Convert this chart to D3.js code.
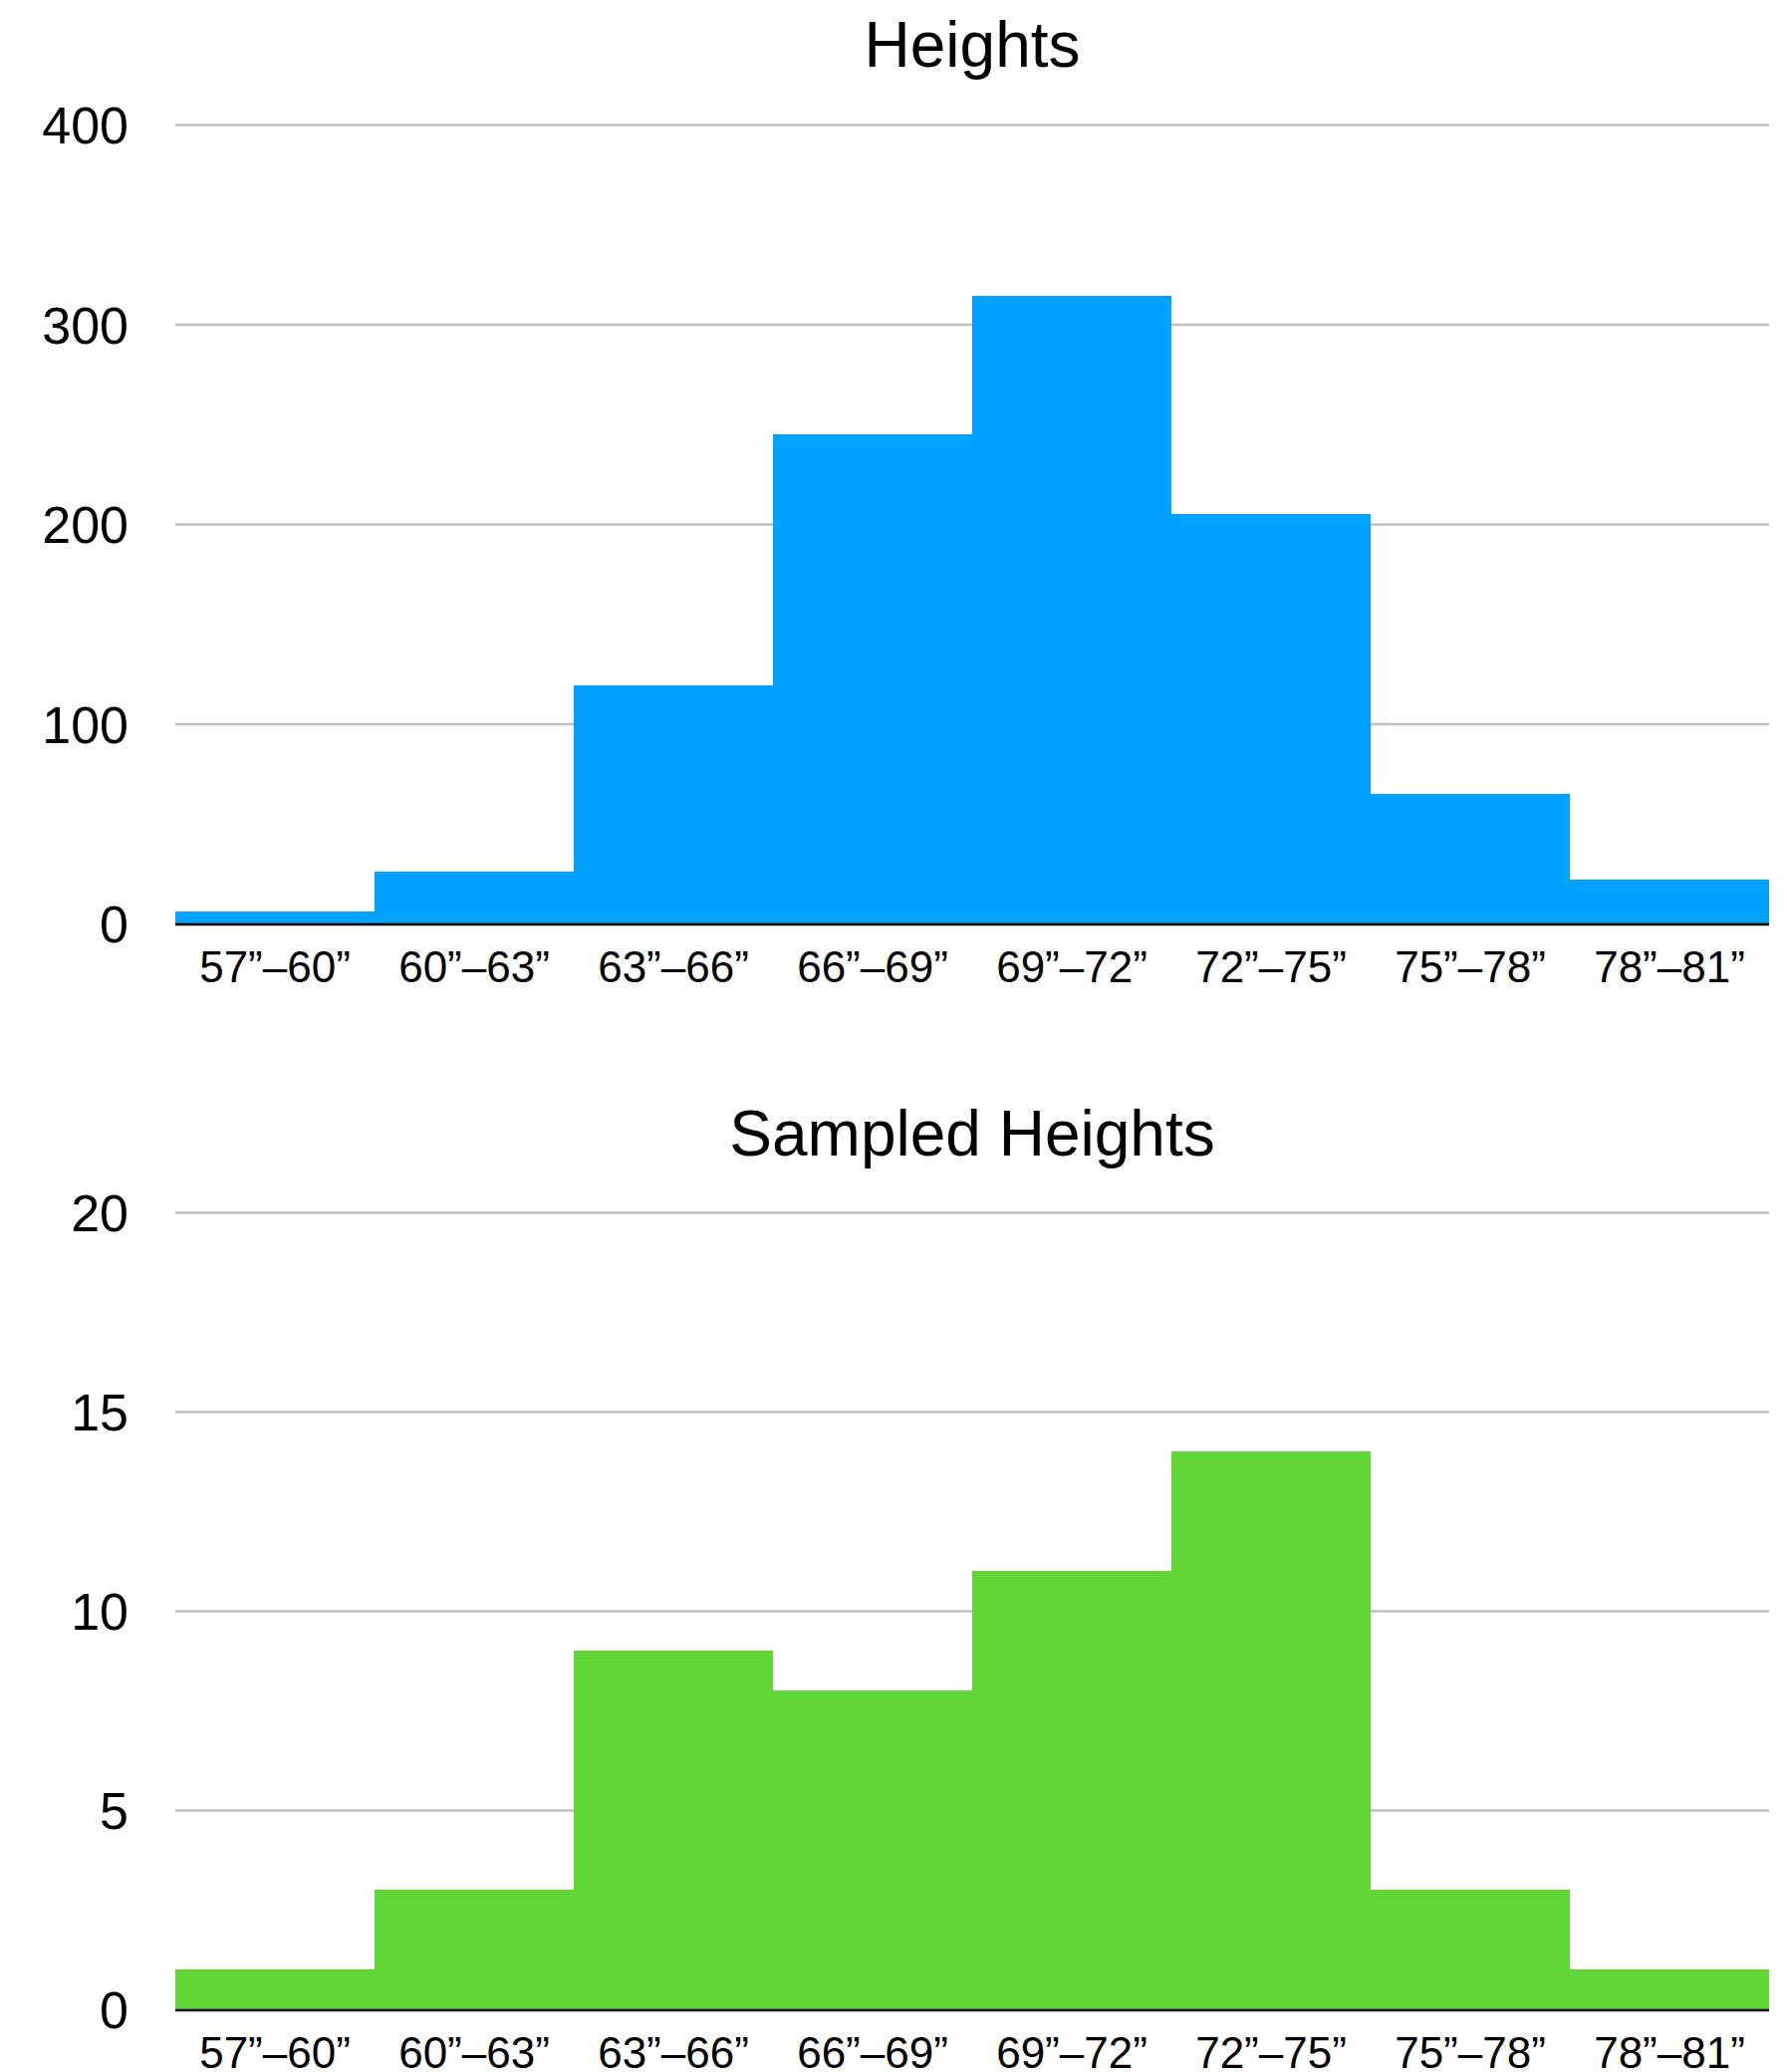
<!DOCTYPE html>
<html>

<head>
    <meta charset="utf-8">
    <style>
        body {
            margin: 0;
            background: #fff;
        }

        svg {
            font-family: 'Liberation Sans', Arial, Helvetica, sans-serif;
        }

        .y .tick line {
            stroke: #c0c0c0;
            stroke-width: 2.5px;
        }

        .y .domain,
        .x .domain,
        .x .tick line {
            display: none;
        }

        .y .tick text {
            font-size: 52px;
            fill: #000;
        }

        .x .tick text {
            font-size: 44px;
            fill: #000;
        }

        .title {
            font-size: 64px;
            fill: #000;
        }

        rect {
            shape-rendering: crispEdges;
        }
    </style>
</head>

<body>
    <svg width="1794" height="2080"></svg>
</body>

<script src="https://d3js.org/d3.v7.min.js"></script>

<script>
    // bins shared by both charts
    let bins = ["57\u201d\u201360\u201d", "60\u201d\u201363\u201d", "63\u201d\u201366\u201d", "66\u201d\u201369\u201d",
        "69\u201d\u201372\u201d", "72\u201d\u201375\u201d", "75\u201d\u201378\u201d", "78\u201d\u201381\u201d"]

    // population counts
    let heights = [6, 26, 119, 245, 314, 205, 65, 22]
    let heightTicks = [0, 100, 200, 300, 400]

    // sample counts
    let sampled = [1, 3, 9, 8, 11, 14, 3, 1]
    let sampledTicks = [0, 5, 10, 15, 20]

    let svg = d3.select("svg")

    let margin = { left: 176, right: 18 }
    let width = 1794

    let x = d3.scaleBand()
        .domain(bins)
        .range([margin.left, width - margin.right])
        .padding(0)

    function drawChart(title, values, ticks, color, top, bottom, titleY) {
        let y = d3.scaleLinear()
            .domain([0, ticks[ticks.length - 1]])
            .range([bottom, top])

        let g = svg.append("g")

        g.append("text")
            .attr("class", "title")
            .attr("x", (margin.left + width - margin.right) / 2)
            .attr("y", titleY)
            .attr("text-anchor", "middle")
            .text(title)

        // grid lines + labels
        let yAxis = d3.axisLeft(y)
            .tickValues(ticks)
            .tickSize(-(width - margin.left - margin.right))
            .tickPadding(47)

        g.append("g")
            .attr("class", "y axis")
            .attr("transform", `translate(${margin.left},0)`)
            .call(yAxis)
            .selectAll(".tick text")
            .attr("dy", "0.36em")

        g.append("g")
            .selectAll("rect")
            .data(values)
            .join("rect")
            .attr("x", function (d, i) { return x(bins[i]) })
            .attr("width", x.bandwidth())
            .attr("y", function (d) { return y(d) })
            .attr("height", function (d) { return bottom - y(d) })
            .attr("fill", color)

        // baseline
        g.append("line")
            .attr("x1", margin.left)
            .attr("x2", width - margin.right)
            .attr("y1", bottom + 1)
            .attr("y2", bottom + 1)
            .attr("stroke", "#000")
            .attr("stroke-width", 2.5)

        let xAxis = d3.axisBottom(x)
            .tickSize(0)
            .tickPadding(28)

        g.append("g")
            .attr("class", "x axis")
            .attr("transform", `translate(0,${bottom})`)
            .call(xAxis)
    }

    drawChart("Heights", heights, heightTicks, "#00A2FF", 125, 927, 67)
    drawChart("Sampled Heights", sampled, sampledTicks, "#61D836", 1217, 2017, 1160)

</script>

</html>
